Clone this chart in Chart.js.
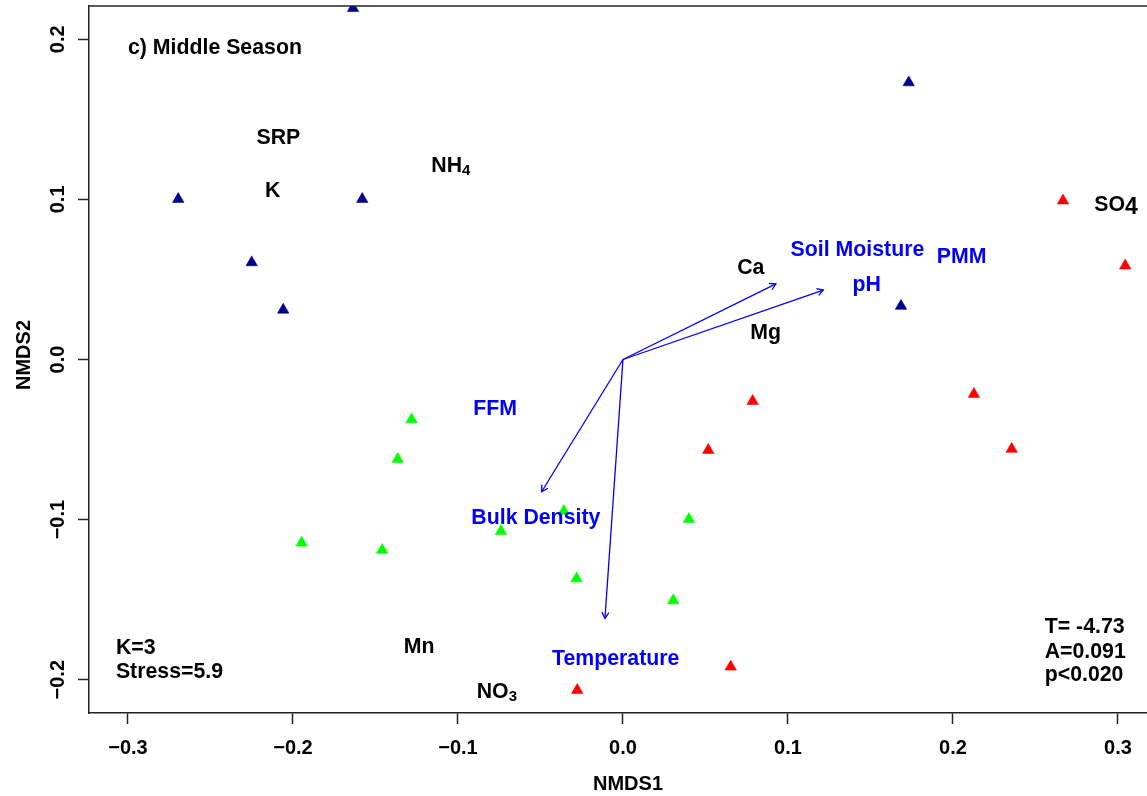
<!DOCTYPE html>
<html>
<head>
<meta charset="utf-8">
<script src="https://cdn.jsdelivr.net/npm/chart.js@4.4.0/dist/chart.umd.min.js"></script>
<style>
  html, body { margin: 0; padding: 0; background: #fff; overflow: hidden; }
  #wrap { width: 1147px; height: 796px; position: relative; }
</style>
</head>
<body>
<div id="wrap"><canvas id="nmds" width="1147" height="796"></canvas></div>
<script>
// site scores (NMDS1, NMDS2) per group
const navyX  = [-0.1636, 0.1732, -0.2695, -0.1580, -0.2250, -0.2059, 0.1685];
const navyY  = [ 0.2194, 0.1730,  0.1002,  0.1002,  0.0606,  0.0310, 0.0334];
const redX   = [ 0.2667, 0.3044,  0.0786,  0.0517,  0.2127,  0.2356, 0.0653, -0.0277];
const redY   = [ 0.0992, 0.0586, -0.0260, -0.0566, -0.0216, -0.0559, -0.1919, -0.2065];
const greenX = [-0.1281, -0.1365, -0.1947, -0.1459, -0.0739, -0.0358, 0.0400, -0.0281, 0.0305];
const greenY = [-0.0375, -0.0622, -0.1145, -0.1190, -0.1072, -0.0947, -0.0997, -0.1368, -0.1505];

// environmental fit vectors (from origin)
const arrowX = [0.0927, 0.1214, -0.0493, -0.0109];
const arrowY = [0.0472, 0.0434, -0.0826, -0.1617];

// species / nutrient labels (black), "_" = subscript, "^" = lowered digit
const speciesLabels = ['SRP', 'K', 'NH_4', 'Ca', 'Mg', 'Mn', 'NO_3', 'SO^4'];
const speciesX = [-0.2088, -0.2122, -0.1043, 0.0775, 0.0864, -0.1235, -0.0764, 0.2988];
const speciesY = [ 0.1396,  0.1063,  0.1220, 0.0579, 0.0177, -0.1783, -0.2069, 0.0973];

// environmental variable labels (blue)
const envLabels = ['Soil Moisture', 'PMM', 'pH', 'FFM', 'Bulk Density', 'Temperature'];
const envX = [0.1421, 0.2052, 0.1477, -0.0775, -0.0528, -0.0044];
const envY = [0.0695, 0.0648, 0.0476, -0.0300, -0.0979, -0.1858];

// panel text (left aligned)
const notes  = ['c) Middle Season', 'K=3', 'Stress=5.9', 'T= -4.73', 'A=0.091', 'p<0.020'];
const notesX = [-0.3000, -0.3073, -0.3073, 0.2556, 0.2556, 0.2556];
const notesY = [ 0.1957, -0.1794, -0.1939, -0.1658, -0.1815, -0.1960];

const xTicks = [-0.3, -0.2, -0.1, 0.0, 0.1, 0.2, 0.3];
const yTicks = [-0.2, -0.1, 0.0, 0.1, 0.2];

const FONT = "'Liberation Sans', Arial, sans-serif";
const BLUE = '#0000ff';
const LABEL_SIZE = 21.3;

const pts = (xs, ys) => xs.map((x, i) => ({ x: x, y: ys[i] }));
const fmt = v => v.toFixed(1).replace('-', '\u2212');

function drawRich(ctx, text, px, py, color, align) {
  let main = text, sub = '', subSize = 15, drop = 3;
  if (text.includes('_')) { [main, sub] = text.split('_'); }
  else if (text.includes('^')) { [main, sub] = text.split('^'); subSize = 23; drop = 3; }
  ctx.font = 'bold ' + LABEL_SIZE + 'px ' + FONT;
  const w1 = ctx.measureText(main).width;
  ctx.font = 'bold ' + subSize + 'px ' + FONT;
  const w2 = sub ? ctx.measureText(sub).width : 0;
  const x0 = align === 'left' ? px : px - (w1 + w2) / 2;
  const base = py + LABEL_SIZE * 0.358;
  ctx.fillStyle = color;
  ctx.textAlign = 'left';
  ctx.textBaseline = 'alphabetic';
  ctx.font = 'bold ' + LABEL_SIZE + 'px ' + FONT;
  ctx.fillText(main, x0, base);
  if (sub) {
    ctx.font = 'bold ' + subSize + 'px ' + FONT;
    ctx.fillText(sub, x0 + w1, base + drop);
  }
}

const overlay = {
  id: 'overlay',
  afterDatasetsDraw(chart) {
    const ctx = chart.ctx, sx = chart.scales.x, sy = chart.scales.y;
    const ox = sx.getPixelForValue(0), oy = sy.getPixelForValue(0);
    ctx.save();
    // arrow heads
    ctx.strokeStyle = BLUE;
    ctx.lineWidth = 1.3;
    arrowX.forEach((ax, i) => {
      const tx = sx.getPixelForValue(ax), ty = sy.getPixelForValue(arrowY[i]);
      const ang = Math.atan2(ty - oy, tx - ox);
      ctx.beginPath();
      ctx.moveTo(tx - 7 * Math.cos(ang - Math.PI / 6), ty - 7 * Math.sin(ang - Math.PI / 6));
      ctx.lineTo(tx, ty);
      ctx.lineTo(tx - 7 * Math.cos(ang + Math.PI / 6), ty - 7 * Math.sin(ang + Math.PI / 6));
      ctx.stroke();
    });
    speciesLabels.forEach((t, i) =>
      drawRich(ctx, t, sx.getPixelForValue(speciesX[i]), sy.getPixelForValue(speciesY[i]), '#000', 'center'));
    envLabels.forEach((t, i) =>
      drawRich(ctx, t, sx.getPixelForValue(envX[i]), sy.getPixelForValue(envY[i]), BLUE, 'center'));
    notes.forEach((t, i) =>
      drawRich(ctx, t, sx.getPixelForValue(notesX[i]), sy.getPixelForValue(notesY[i]), '#000', 'left'));
    ctx.restore();
  },
  afterDraw(chart) {
    const ctx = chart.ctx, a = chart.chartArea, sy = chart.scales.y;
    ctx.save();
    // top frame line
    ctx.strokeStyle = '#222';
    ctx.lineWidth = 1.5;
    ctx.beginPath();
    ctx.moveTo(a.left, a.top);
    ctx.lineTo(a.right, a.top);
    ctx.stroke();
    // rotated y tick labels and y title
    ctx.fillStyle = '#000';
    ctx.textAlign = 'center';
    ctx.textBaseline = 'alphabetic';
    ctx.font = 'bold 20px ' + FONT;
    yTicks.forEach(v => {
      ctx.save();
      ctx.translate(56.7, sy.getPixelForValue(v));
      ctx.rotate(-Math.PI / 2);
      ctx.fillText(fmt(v), 0, 7.2);
      ctx.restore();
    });
    ctx.save();
    ctx.translate(22.5, 355);
    ctx.rotate(-Math.PI / 2);
    ctx.fillText('NMDS2', 0, 7.2);
    ctx.restore();
    ctx.fillText('NMDS1', 628, 782.5 + 7.2);
    ctx.restore();
  }
};

const arrowSets = arrowX.map((ax, i) => ({
  type: 'line',
  data: [{ x: 0, y: 0 }, { x: ax, y: arrowY[i] }],
  borderColor: BLUE,
  borderWidth: 1.3,
  pointRadius: 0,
  fill: false,
  clip: 0
}));

const tri = (data, color) => ({
  type: 'scatter',
  data: data,
  pointStyle: 'triangle',
  pointRadius: 6.6,
  backgroundColor: color,
  borderColor: color,
  borderWidth: 0.6,
  clip: 0
});

const axisGrid = { drawOnChartArea: false, drawTicks: true, tickLength: 11, tickColor: '#222', tickWidth: 1.5 };
const axisBorder = { display: true, color: '#222', width: 1.5 };

new Chart(document.getElementById('nmds'), {
  type: 'scatter',
  data: {
    datasets: [
      ...arrowSets,
      tri(pts(navyX, navyY), '#00008b'),
      tri(pts(redX, redY), '#ff0000'),
      tri(pts(greenX, greenY), '#00ff00')
    ]
  },
  options: {
    responsive: false,
    animation: false,
    devicePixelRatio: 1,
    layout: { autoPadding: false, padding: { top: 6, left: 0, right: 0, bottom: 0 } },
    plugins: { legend: { display: false }, tooltip: { enabled: false } },
    scales: {
      x: {
        type: 'linear',
        position: 'bottom',
        min: -0.3236,
        max: 0.3176,
        afterFit: s => { s.height = 83; s.paddingLeft = 0; s.paddingRight = 0; },
        afterBuildTicks: s => { s.ticks = xTicks.map(v => ({ value: v })); },
        ticks: {
          color: '#000',
          padding: 12,
          font: { family: FONT, size: 20, weight: 'bold' },
          callback: v => fmt(v)
        },
        grid: axisGrid,
        border: axisBorder
      },
      y: {
        type: 'linear',
        position: 'left',
        min: -0.2208,
        max: 0.2208,
        afterFit: s => { s.width = 89; s.paddingTop = 0; s.paddingBottom = 0; },
        afterBuildTicks: s => { s.ticks = yTicks.map(v => ({ value: v })); },
        ticks: { display: false },
        grid: axisGrid,
        border: axisBorder
      }
    }
  },
  plugins: [overlay]
});
</script>
</body>
</html>
